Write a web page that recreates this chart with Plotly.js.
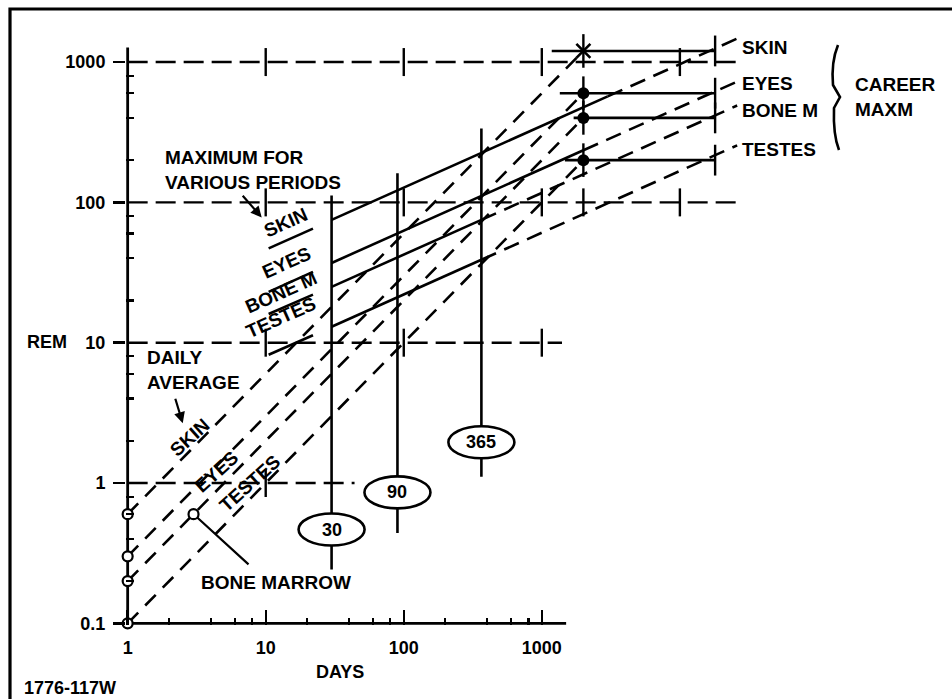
<!DOCTYPE html>
<html><head><meta charset="utf-8">
<script src="https://cdn.plot.ly/plotly-3.0.1.min.js"></script>
<style>html,body{margin:0;padding:0;background:#fff;overflow:hidden}#chart{width:952px;height:699px}</style>
</head><body><div id="chart"></div>
<script>
// ---------------- data ----------------
const organs = ['SKIN', 'EYES', 'BONE M', 'TESTES'];
// daily-average dashed lines (rem) at day 1 and at the career point (2000 days)
const dailyDays = [1, 2000];
const dailySkin = [0.6, 1200];
const dailyEyes = [0.3, 600];
const dailyBone = [0.2, 400];
const dailyTestes = [0.1, 200];
// maximum for various periods: label underline part
const underDays = [10.5, 22];
const underSkin = [47, 65];
const underEyes = [23, 32];
const underBone = [16, 22];
const underTestes = [8.2, 11.3];
// solid part (30, 90, 365 days and beyond where still solid)
const mainSkinDays = [30, 90, 365, 3000];
const mainSkin = [75, 122, 225, 569];
const mainEyesDays = [30, 90, 365, 2000];
const mainEyes = [37, 60, 111, 235];
const mainBoneDays = [30, 90, 365];
const mainBone = [25, 40.5, 75];
const mainTestesDays = [30, 90, 365];
const mainTestes = [13, 21, 39];
// dashed extension to the career limit and on to the right-hand label
const extSkinDays = [3000, 18000, 26000];
const extSkin = [569, 1250, 1470];
const extEyesDays = [2000, 18000, 26000];
const extEyes = [235, 618, 726];
const extBoneDays = [365, 18000, 26000];
const extBone = [75, 417, 490];
const extTestesDays = [365, 18000, 26000];
const extTestes = [39, 217, 255];
// career maxima
const careerValues = [1200, 600, 400, 200];
const careerBarStart = [1180, 1350, 1700, 1470];
const careerDotDay = 2000;
const careerEndDay = 18000;
// reference (grid) lines
const refLevels = [1000, 100, 10, 1];
const refStart = [1, 1, 1, 1];
const refEnd = [26000, 27000, 1400, 44];
const refCross = [[10, 100, 1000, 10000], [10, 100, 1000, 2000, 10000], [10, 100, 1000], [10]];
// period verticals
const periods = [30, 90, 365];
const periodLabels = ['30', '90', '365'];
const periodTop = [112, 161, 336];
const periodBottom = [0.242, 0.44, 1.11];
const periodTag = [0.466, 0.857, 1.95];
// open circles
const openDays = [1, 1, 1, 1, 3];
const openRem = [0.6, 0.3, 0.2, 0.1, 0.6];
// axes
const xTicks = [1, 10, 100, 1000];
const yTicks = [0.1, 1, 10, 100, 1000];
const yTickText = ['0.1', '1', '10', '100', '1000'];
const xMinor = [2, 4, 6, 8, 20, 40, 60, 80, 200, 400, 600, 800];
const yMinor = [0.2, 0.4, 0.6, 0.8, 2, 4, 6, 8, 20, 40, 60, 80, 200, 400, 600, 800];
const xAxisEnd = 1500;
const yAxisEnd = 1270;

// ---------------- layout helpers ----------------
const L = 126, T = 34, PW = 616, PH = 591;
const XR = [-0.012, 4.45], YR = [-1.012, 3.2];
const px = v => (v - L) / PW;
const py = v => (T + PH - v) / PH;
const lg = Math.log10;
const dpx = d => (lg(d) - XR[0]) / (XR[1] - XR[0]);   // data -> paper (x)
const dpy = r => (lg(r) - YR[0]) / (YR[1] - YR[0]);   // data -> paper (y)
const FONT = 'Liberation Sans, Arial, Helvetica, sans-serif';
const BLK = '#000';

const traces = [];
function line(x, y, dash, w) {
  traces.push({type: 'scatter', mode: 'lines', x, y, hoverinfo: 'skip', showlegend: false,
    line: {color: BLK, width: w || 2.6, dash: dash || 'solid'}, connectgaps: false});
}
function marks(x, y, symbol, size, fill, lw) {
  traces.push({type: 'scatter', mode: 'markers', x, y, hoverinfo: 'skip', showlegend: false, cliponaxis: false,
    marker: {symbol, size, color: fill || BLK, line: {color: BLK, width: lw == null ? 2.4 : lw}}});
}

// axis lines
line([1, xAxisEnd], [0.1, 0.1], 'solid', 2.8);
line([1, 1], [0.085, yAxisEnd], 'solid', 2.8);

// reference lines with crosses
refLevels.forEach((lv, i) => {
  line([refStart[i], refEnd[i]], [lv, lv], '20px,8px', 2.4);
  marks(refCross[i], refCross[i].map(() => lv), 'line-ns', 20, BLK, 2.4);
});

// period verticals
periods.forEach((d, i) => line([d, d], [periodBottom[i], periodTop[i]], 'solid', 2.6));

// daily average dashed lines
[dailySkin, dailyEyes, dailyBone, dailyTestes].forEach(v => line(dailyDays, v, '15px,10px', 2.6));

// maximum lines
[underSkin, underEyes, underBone, underTestes].forEach(v => line(underDays, v, 'solid', 2.6));
line(mainSkinDays, mainSkin); line(mainEyesDays, mainEyes);
line(mainBoneDays, mainBone); line(mainTestesDays, mainTestes);
line(extSkinDays, extSkin, '16px,9px'); line(extEyesDays, extEyes, '16px,9px');
line(extBoneDays, extBone, '16px,9px'); line(extTestesDays, extTestes, '16px,9px');

// career bars and markers
careerValues.forEach((v, i) => line([careerBarStart[i], careerEndDay], [v, v], 'solid', 2.6));
marks([careerDotDay], [careerValues[0]], 'x-thin', 14, BLK, 2.6);
marks(careerValues.slice(1).map(() => careerDotDay), careerValues.slice(1), 'circle', 12, BLK, 0);
marks(careerValues.map(() => careerDotDay), careerValues, 'line-ns', 24, BLK, 2.4);
marks(careerValues.map(() => careerEndDay), careerValues, 'line-ns', 22, BLK, 2.4);

// open circles
marks(openDays, openRem, 'circle', 10, '#fff', 2.2);

// ---------------- annotations ----------------
const f = (size) => ({family: FONT, size: size || 19, color: BLK, weight: 700});
const ann = [];
function dtext(text, x, y, opts) {
  ann.push(Object.assign({text, x: lg(x), y: lg(y), xref: 'x', yref: 'y', showarrow: false, font: f(),
    xanchor: 'center', yanchor: 'middle'}, opts || {}));
}
function ptext(text, x, y, opts) {
  ann.push(Object.assign({text, x: px(x), y: py(y), xref: 'paper', yref: 'paper', showarrow: false, font: f(),
    xanchor: 'center', yanchor: 'middle'}, opts || {}));
}
// period tags
periods.forEach((d, i) => dtext(periodLabels[i], d, periodTag[i], {font: f(18)}));

// left labels
dtext('MAXIMUM FOR<br>VARIOUS PERIODS', Math.pow(10, 0.254), Math.pow(10, 2.232), {xanchor: 'left', align: 'left'});
ann.push({text: ' ', x: 0.971, y: 1.893, xref: 'x', yref: 'y', ax: -22, ay: -25,
  showarrow: true, arrowhead: 2, arrowsize: 1, arrowwidth: 2.2, arrowcolor: BLK, standoff: 0});
const maxLabelPos = [[1.145, 1.857], [1.152, 1.572], [1.109, 1.358], [1.109, 1.18]];
organs.forEach((o, i) => ann.push({text: o, x: maxLabelPos[i][0], y: maxLabelPos[i][1], xref: 'x', yref: 'y',
  showarrow: false, textangle: -24, font: f()}));

dtext('DAILY<br>AVERAGE', Math.pow(10, 0.123), Math.pow(10, 0.803), {xanchor: 'left', align: 'left'});
ann.push({text: ' ', x: 0.399, y: 0.426, xref: 'x', yref: 'y', ax: -10, ay: -33,
  showarrow: true, arrowhead: 2, arrowsize: 1, arrowwidth: 2.2, arrowcolor: BLK, standoff: 0});
const dailyLabels = [['SKIN', 0.449, 0.325], ['EYES', 0.645, 0.083], ['TESTES', 0.884, -0.003]];
dailyLabels.forEach(d => ann.push({text: d[0], x: d[1], y: d[2], xref: 'x', yref: 'y', showarrow: false, textangle: -42, font: f()}));

dtext('BONE MARROW', Math.pow(10, 0.514), Math.pow(10, -0.71), {xanchor: 'left'});
ann.push({text: ' ', x: lg(3), y: lg(0.6), xref: 'x', yref: 'y', ax: 58, ay: 53,
  showarrow: true, arrowhead: 0, arrowwidth: 2.2, arrowcolor: BLK, standoff: 5});

// right labels
const rightY = [47, 84, 110, 150];
organs.forEach((o, i) => ptext(o, 740, rightY[i], {xanchor: 'left'}));
ptext('CAREER<br>MAXM', 853, 97, {xanchor: 'left', align: 'left'});

// axis titles and figure id
ptext('REM', 47, 342, {font: f(18)});
ptext('DAYS', 340, 672, {font: f(18)});
ptext('1776-117W', 22, 688, {xanchor: 'left', font: f(18)});

// ---------------- shapes ----------------
const shapes = [];
const P = p => px(p[0]) + ',' + py(p[1]);
// frame: top and left edges only (the rest lies outside the picture)
shapes.push({type: 'path', xref: 'paper', yref: 'paper', path: 'M' + P([10, 720]) + ' L' + P([10, 9]) + ' L' + P([960, 9]),
  line: {color: BLK, width: 3.2}, layer: 'below'});
// period tag ellipses (white filled, drawn over the vertical lines)
periods.forEach((d, i) => shapes.push({type: 'circle', xref: 'paper', yref: 'paper',
  x0: dpx(d) - 33 / PW, x1: dpx(d) + 33 / PW, y0: dpy(periodTag[i]) - 16 / PH, y1: dpy(periodTag[i]) + 16 / PH,
  fillcolor: '#fff', line: {color: BLK, width: 2.6}, layer: 'above'}));
// brace for career maxima
const bp = [[838, 45], [831, 62], [833, 85], [840, 97], [834, 108], [833, 135], [839, 150]];
shapes.push({type: 'path', xref: 'paper', yref: 'paper',
  path: 'M' + P(bp[0]) + ' Q' + P(bp[1]) + ' ' + P(bp[2]) + ' L' + P(bp[3]) + ' L' + P(bp[4]) + ' Q' + P(bp[5]) + ' ' + P(bp[6]),
  line: {color: BLK, width: 2.6}});

// ---------------- layout ----------------
const layout = {
  width: 952, height: 699,
  margin: {l: L, r: 952 - L - PW, t: T, b: 699 - T - PH, pad: 0},
  paper_bgcolor: '#fff', plot_bgcolor: '#fff',
  showlegend: false,
  font: {family: FONT, color: BLK},
  xaxis: {type: 'log', range: XR, showgrid: false, zeroline: false, showline: false,
    tickmode: 'array', tickvals: xTicks, ticktext: xTicks.map(String), ticks: 'inside', ticklen: 15, tickwidth: 2.4,
    tickcolor: BLK, ticklabelstandoff: 10, tickfont: {family: FONT, size: 18, color: BLK, weight: 700},
    minor: {tickvals: xMinor, ticks: 'inside', ticklen: 7, tickwidth: 2.2, tickcolor: BLK, showgrid: false}},
  yaxis: {type: 'log', range: YR, showgrid: false, zeroline: false, showline: false,
    tickmode: 'array', tickvals: yTicks, ticktext: yTickText, ticks: 'outside', ticklen: 12, tickwidth: 2.4,
    tickcolor: BLK, ticklabelstandoff: 4, tickfont: {family: FONT, size: 18, color: BLK, weight: 700},
    minor: {tickvals: yMinor, ticks: 'inside', ticklen: 8, tickwidth: 2.2, tickcolor: BLK, showgrid: false}},
  annotations: ann,
  shapes: shapes
};
Plotly.newPlot('chart', traces, layout, {displayModeBar: false, staticPlot: true});
</script>
</body></html>
